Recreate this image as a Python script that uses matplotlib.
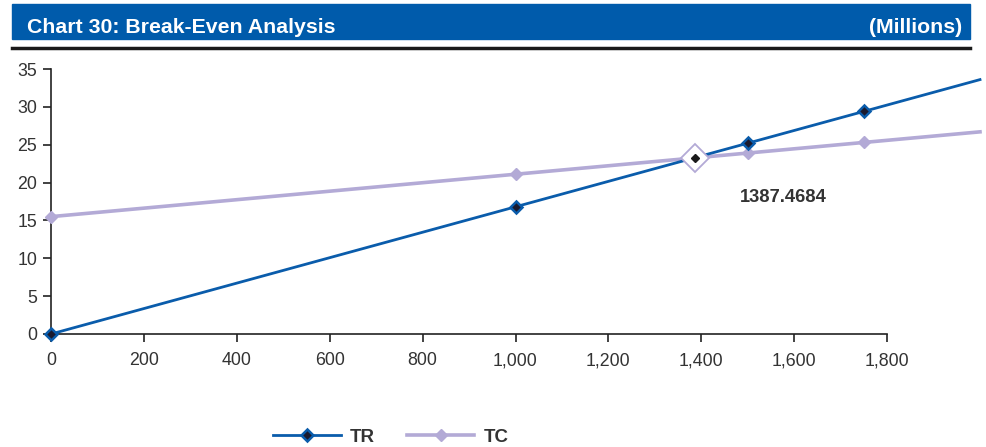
import matplotlib
matplotlib.use("Agg")
import matplotlib.pyplot as plt
from matplotlib.patches import Rectangle
from matplotlib.lines import Line2D

plt.rcParams['font.family'] = ['Liberation Sans', 'DejaVu Sans']

# Output quantity and revenue / cost (millions)
quantity = [0, 1000, 1500, 1750, 2000]
total_revenue = [0, 16.8, 25.2, 29.4, 33.6]
total_cost = [15.5, 21.1, 23.9, 25.3, 26.7]
breakeven_q = 1387.4684
breakeven_v = 23.3
breakeven_label = "1387.4684"
x_ticks = [0, 200, 400, 600, 800, 1000, 1200, 1400, 1600, 1800]
y_ticks = [0, 5, 10, 15, 20, 25, 30, 35]

TR_COLOR = '#0a5cab'
TC_COLOR = '#b3aad6'
TEXT = '#333333'

fig = plt.figure(figsize=(9.86, 4.47), dpi=100)

# Header bar
fig.patches.append(Rectangle((12/986, 1-39/447), (970-12)/986, 35/447,
                             transform=fig.transFigure, color='#005bab', zorder=0))
fig.text(27/986, 1-33/447, "Chart 30: Break-Even Analysis", color='white',
         fontsize=15.3, fontweight='bold', va='baseline', ha='left')
fig.text(962/986, 1-33/447, "(Millions)", color='white',
         fontsize=15.3, fontweight='bold', va='baseline', ha='right')
fig.lines.append(Line2D([12/986, 970/986], [1-48/447, 1-48/447],
                        transform=fig.transFigure, color='#1a1a1a', lw=2.5))

ax = fig.add_axes([51/986, 1-334/447, (980-51)/986, (334-69)/447])

ax.plot(quantity, total_cost, color=TC_COLOR, lw=2.6, marker='D', markersize=6,
        markerfacecolor=TC_COLOR, markeredgecolor=TC_COLOR, markevery=[0, 1, 2, 3],
        clip_on=False, zorder=3, label='TC')
ax.plot(quantity, total_revenue, color=TR_COLOR, lw=2, marker='D', markersize=6,
        markerfacecolor='#1a1a2e', markeredgecolor=TR_COLOR, markeredgewidth=1.8,
        markevery=[0, 1, 2, 3], clip_on=False, zorder=4, label='TR')

# Break-even point
ax.plot([breakeven_q], [breakeven_v], marker='D', markersize=14,
        markerfacecolor='white', markeredgecolor=TC_COLOR, markeredgewidth=1.3,
        zorder=5)
ax.plot([breakeven_q], [breakeven_v], marker='D', markersize=4.5,
        markerfacecolor='#1a1a1a', markeredgecolor='#1a1a1a', zorder=6)
ax.text(breakeven_q + 189, 18.0, breakeven_label, fontsize=13.2, fontweight='bold',
        color=TEXT, ha='center', va='center')

ax.set_xlim(0, 2000)
ax.set_ylim(0, 35)
ax.set_xticks(x_ticks)
ax.set_xticklabels([f"{t:,}" for t in x_ticks])
ax.set_yticks(y_ticks)
for s in ['top', 'right']:
    ax.spines[s].set_visible(False)
ax.spines['bottom'].set_bounds(0, 1800)
for s in ['left', 'bottom']:
    ax.spines[s].set_color('#222222')
    ax.spines[s].set_linewidth(1.2)
ax.tick_params(axis='both', direction='out', length=6, width=1.2, color='#222222',
               labelsize=12.8, labelcolor=TEXT)
ax.tick_params(axis='x', pad=7)
ax.tick_params(axis='y', pad=4)

handles = [
    Line2D([], [], color=TR_COLOR, lw=2, marker='D', markersize=6,
           markerfacecolor='#1a1a2e', markeredgecolor=TR_COLOR, markeredgewidth=1.8),
    Line2D([], [], color=TC_COLOR, lw=2.6, marker='D', markersize=6,
           markerfacecolor=TC_COLOR, markeredgecolor=TC_COLOR),
]
fig.legend(handles, ['TR', 'TC'], loc='center', bbox_to_anchor=(391/986, 1-437/447),
           ncol=2, frameon=False, handlelength=3.6, columnspacing=1.7,
           prop={'weight': 'bold', 'size': 13.5}, labelcolor=TEXT, handletextpad=0.5)

fig.savefig('out.png', dpi=100)
